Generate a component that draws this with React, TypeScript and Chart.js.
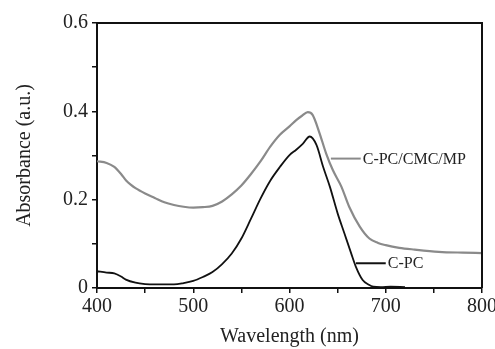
import React, { useEffect, useRef } from "react";
import { Chart, registerables } from "chart.js";

Chart.register(...registerables);

// C-PC/CMC/MP (grey curve)
const mpWavelength = [400, 410, 418, 425, 430, 435, 440, 450, 460, 470, 480, 490, 500, 510, 520, 530, 540, 550, 560, 570, 580, 590, 600, 607, 613, 619, 624, 631, 638, 645, 654, 662, 673, 683, 692, 700, 714, 730, 755, 780, 800];
const mpAbsorbance = [0.287, 0.283, 0.274, 0.258, 0.244, 0.234, 0.226, 0.214, 0.204, 0.194, 0.188, 0.184, 0.182, 0.183, 0.186, 0.196, 0.212, 0.232, 0.258, 0.287, 0.320, 0.347, 0.366, 0.380, 0.390, 0.398, 0.392, 0.352, 0.305, 0.267, 0.229, 0.184, 0.139, 0.112, 0.102, 0.097, 0.091, 0.087, 0.082, 0.080, 0.079];

// C-PC (black curve)
const cpcWavelength = [400, 410, 418, 425, 430, 440, 450, 460, 470, 480, 490, 500, 510, 520, 530, 540, 550, 560, 570, 580, 590, 600, 607, 614, 621, 628, 635, 642, 650, 657, 664, 669, 676, 682, 687, 695, 705, 720];
const cpcAbsorbance = [0.038, 0.035, 0.033, 0.026, 0.019, 0.012, 0.009, 0.008, 0.008, 0.008, 0.011, 0.016, 0.025, 0.036, 0.054, 0.078, 0.112, 0.157, 0.203, 0.243, 0.274, 0.301, 0.313, 0.327, 0.343, 0.324, 0.274, 0.229, 0.169, 0.124, 0.079, 0.048, 0.018, 0.008, 0.003, 0.002, 0.003, 0.002];

const seriesNames = ["C-PC/CMC/MP", "C-PC"];

// callout anchors in data units (wavelength start, wavelength end, absorbance)
const calloutStart = [643, 669];
const calloutEnd = [674, 700];
const calloutValue = [0.293, 0.056];

const xMin = 400;
const xMax = 800;
const yMin = 0;
const yMax = 0.6;

const GREY = "#8a8a8a";
const BLACK = "#111111";
const FONT = "'Liberation Serif', 'Times New Roman', serif";

const framePlugin = {
  id: "frameAndCallouts",
  afterDatasetsDraw(chart: any) {
    const { ctx, chartArea, scales } = chart;
    const { left, right, top, bottom } = chartArea;
    ctx.save();
    ctx.strokeStyle = BLACK;
    ctx.lineWidth = 2;
    ctx.beginPath();
    ctx.moveTo(left, top);
    ctx.lineTo(right, top);
    ctx.lineTo(right, bottom);
    ctx.stroke();

    const colors = [GREY, BLACK];
    ctx.font = `16px ${FONT}`;
    ctx.textBaseline = "middle";
    ctx.textAlign = "left";
    for (let i = 0; i < seriesNames.length; i++) {
      const x0 = scales.x.getPixelForValue(calloutStart[i]);
      const x1 = scales.x.getPixelForValue(calloutEnd[i]);
      const yy = scales.y.getPixelForValue(calloutValue[i]);
      ctx.strokeStyle = colors[i];
      ctx.lineWidth = 2;
      ctx.beginPath();
      ctx.moveTo(x0, yy);
      ctx.lineTo(x1, yy);
      ctx.stroke();
      ctx.fillStyle = "#222";
      ctx.fillText(seriesNames[i], x1 + 2, yy + 1);
    }
    ctx.restore();
  },
};

export default function App() {
  const ref = useRef<HTMLCanvasElement | null>(null);

  useEffect(() => {
    if (!ref.current) return;
    const chart = new Chart(ref.current, {
      type: "line",
      data: {
        datasets: [
          {
            label: seriesNames[0],
            data: mpWavelength.map((w, i) => ({ x: w, y: mpAbsorbance[i] })),
            borderColor: GREY,
            borderWidth: 2.2,
            pointRadius: 0,
            fill: false,
            cubicInterpolationMode: "monotone",
          },
          {
            label: seriesNames[1],
            data: cpcWavelength.map((w, i) => ({ x: w, y: cpcAbsorbance[i] })),
            borderColor: BLACK,
            borderWidth: 1.8,
            pointRadius: 0,
            fill: false,
            cubicInterpolationMode: "monotone",
          },
        ],
      },
      options: {
        animation: false,
        responsive: false,
        layout: { padding: { top: 23, right: 13, left: 0, bottom: 0 } },
        plugins: {
          legend: { display: false },
          tooltip: { enabled: false },
        },
        scales: {
          x: {
            type: "linear",
            min: xMin,
            max: xMax,
            afterFit: (s: any) => {
              s.height = 61;
              s.paddingRight = 0;
              s.paddingLeft = 0;
            },
            border: { display: true, color: BLACK, width: 2 },
            grid: {
              drawOnChartArea: false,
              drawTicks: true,
              tickLength: 5,
              color: BLACK,
              lineWidth: 1.5,
            },
            ticks: {
              stepSize: 50,
              autoSkip: false,
              maxRotation: 0,
              padding: 2,
              color: "#222",
              font: { family: FONT, size: 20 },
              callback: (v: any) => (Number(v) % 100 === 0 ? String(v) : ""),
            },
            title: {
              display: true,
              text: "Wavelength (nm)",
              color: "#222",
              font: { family: FONT, size: 20 },
              padding: { top: 0, bottom: 0 },
            },
          },
          y: {
            type: "linear",
            min: yMin,
            max: yMax,
            afterFit: (s: any) => {
              s.width = 97;
            },
            border: { display: true, color: BLACK, width: 2 },
            grid: {
              drawOnChartArea: false,
              drawTicks: true,
              tickLength: 5,
              color: BLACK,
              lineWidth: 1.5,
            },
            ticks: {
              stepSize: 0.1,
              autoSkip: false,
              padding: 4,
              color: "#222",
              font: { family: FONT, size: 20 },
              callback: (v: any) => {
                const k = Math.round(Number(v) * 10);
                if (k % 2 !== 0) return "";
                return k === 0 ? "0" : (k / 10).toFixed(1);
              },
            },
            title: {
              display: true,
              text: "Absorbance (a.u.)",
              color: "#222",
              font: { family: FONT, size: 20 },
              padding: { top: 13, bottom: 0 },
            },
          },
        },
      },
      plugins: [framePlugin],
    });
    return () => chart.destroy();
  }, []);

  return (
    <div style={{ position: "fixed", left: 0, top: 0, width: 495, height: 349, background: "#fff" }}>
      <canvas ref={ref} width={495} height={349} style={{ display: "block" }} />
    </div>
  );
}
